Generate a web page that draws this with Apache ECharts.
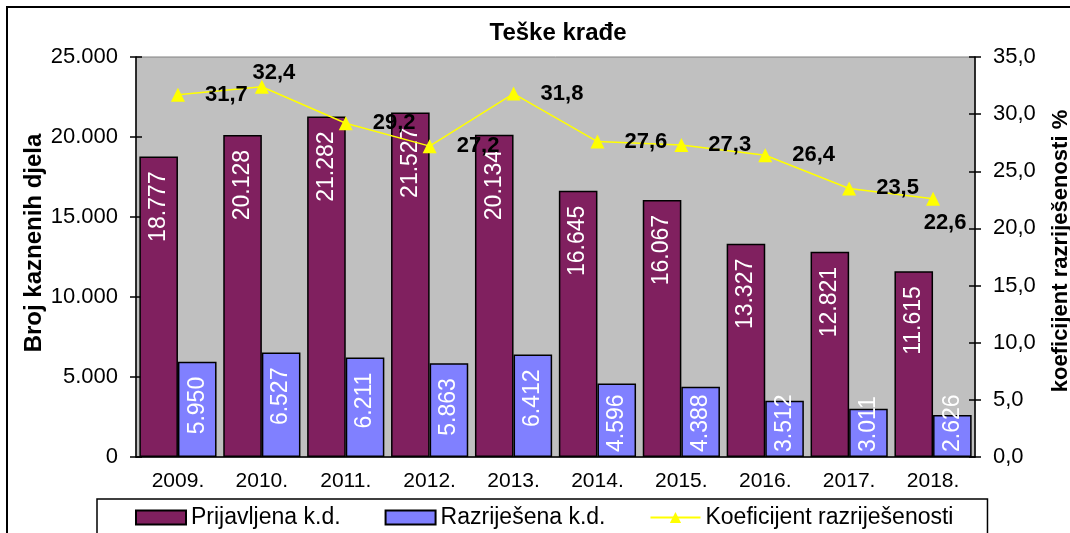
<!DOCTYPE html>
<html>
<head>
<meta charset="utf-8">
<script src="https://cdn.jsdelivr.net/npm/echarts@6/dist/echarts.min.js"></script>
<style>
    html, body { margin: 0; padding: 0; background: #fff; }
    #chart { width: 1070px; height: 533px; }
</style>
</head>
<body>
<div id="chart"></div>
<script>
// values
const years = ['2009.', '2010.', '2011.', '2012.', '2013.', '2014.', '2015.', '2016.', '2017.', '2018.'];
const reported = [18777, 20128, 21282, 21527, 20134, 16645, 16067, 13327, 12821, 11615];
const solved = [5950, 6527, 6211, 5863, 6412, 4596, 4388, 3512, 3011, 2626];
const coef = [31.7, 32.4, 29.2, 27.2, 31.8, 27.6, 27.3, 26.4, 23.5, 22.6];
const coefLabelPos = ['right', 'top', 'right', 'right', 'right', 'right', 'right', 'right', 'right', 'bottom'];

const FONT = '"Liberation Sans", Arial, sans-serif';
const PLOT_BOTTOM = 457;

function thousands(v) {
    return String(v).replace(/\B(?=(\d{3})+(?!\d))/g, '.');
}
function decimal(v) {
    return Number(v).toFixed(1).replace('.', ',');
}

// keep short-bar labels inside the plot, like Excel does
function barLabelLayout(p) {
    const r = p.labelRect;
    const over = r.y + r.height - (PLOT_BOTTOM - 5);
    if (over > 0) return { y: r.y - over };
    return {};
}

const barLabel = {
    show: true,
    position: 'insideTop',
    distance: 15,
    rotate: 90,
    align: 'right',
    verticalAlign: 'middle',
    color: '#fff',
    fontSize: 23,
    fontFamily: FONT,
    formatter: p => thousands(p.value)
};

const tickStyle = { color: '#000', width: 1.5 };

const myChart = echarts.init(document.getElementById('chart'));

const option = {
    animation: false,
    textStyle: { fontFamily: FONT },
    title: {
        text: 'Teške krađe',
        left: 553,
        top: 16,
        textAlign: 'center',
        textStyle: { fontSize: 24, fontWeight: 'bold', color: '#000', fontFamily: FONT }
    },
    graphic: [{
        type: 'rect',
        shape: { x: 7, y: 7, width: 1100, height: 600 },
        style: { fill: 'none', stroke: '#000', lineWidth: 2 },
        silent: true
    }],
    legend: {
        left: 97,
        top: 499,
        padding: [7, 34, 30, 38],
        itemGap: 44,
        itemWidth: 50,
        itemHeight: 14,
        borderColor: '#000',
        borderWidth: 1.5,
        backgroundColor: '#fff',
        textStyle: { fontSize: 23, color: '#000', fontFamily: FONT },
        data: [
            { name: 'Prijavljena k.d.', icon: 'rect' },
            { name: 'Razriješena k.d.', icon: 'rect' },
            { name: 'Koeficijent razriješenosti' }
        ]
    },
    grid: {
        left: 136,
        right: 95,
        top: 57,
        bottom: 76,
        outerBoundsMode: 'none',
        containLabel: false,
        show: true,
        backgroundColor: '#C0C0C0',
        borderColor: '#808080',
        borderWidth: 1
    },
    xAxis: {
        type: 'category',
        data: years,
        axisLine: { lineStyle: { color: '#000', width: 1.5 } },
        axisTick: { length: 7, lineStyle: tickStyle },
        axisLabel: { fontSize: 21, color: '#000', margin: 14, fontFamily: FONT }
    },
    yAxis: [
        {
            type: 'value',
            position: 'left',
            min: 0,
            max: 25000,
            interval: 5000,
            name: 'Broj kaznenih djela',
            nameLocation: 'middle',
            nameGap: 90,
            nameMoveOverlap: false,
            nameRotate: 90,
            nameTextStyle: { fontSize: 24, fontWeight: 'bold', color: '#000', fontFamily: FONT, padding: [0, 0, 0, 28] },
            axisLine: { show: true, lineStyle: { color: '#000', width: 1.5 } },
            axisTick: { show: true, length: 6, lineStyle: tickStyle },
            axisLabel: { fontSize: 22, color: '#000', margin: 18, formatter: thousands, fontFamily: FONT },
            splitLine: { show: false }
        },
        {
            type: 'value',
            position: 'right',
            min: 0,
            max: 35,
            interval: 5,
            name: 'koeficijent razriješenosti %',
            nameLocation: 'middle',
            nameGap: 75,
            nameMoveOverlap: false,
            nameRotate: 90,
            nameTextStyle: { fontSize: 22, fontWeight: 'bold', color: '#000', fontFamily: FONT, padding: [0, 0, 0, 12] },
            axisLine: { show: true, lineStyle: { color: '#000', width: 1.5 } },
            axisTick: { show: true, length: 6, lineStyle: tickStyle },
            axisLabel: { fontSize: 22, color: '#000', margin: 18, formatter: decimal, fontFamily: FONT },
            splitLine: { show: false }
        },
        // inside halves of the crossing ticks
        {
            type: 'value',
            position: 'left',
            min: 0,
            max: 25000,
            interval: 5000,
            axisLine: { show: false },
            axisTick: { show: true, inside: true, length: 6, lineStyle: tickStyle },
            axisLabel: { show: false },
            splitLine: { show: false }
        },
        {
            type: 'value',
            position: 'right',
            min: 0,
            max: 35,
            interval: 5,
            axisLine: { show: false },
            axisTick: { show: true, inside: true, length: 6, lineStyle: tickStyle },
            axisLabel: { show: false },
            splitLine: { show: false }
        }
    ],
    series: [
        {
            name: 'Prijavljena k.d.',
            type: 'bar',
            data: reported,
            barGap: '0%',
            barCategoryGap: '8%',
            itemStyle: { color: '#80205F', borderColor: '#000', borderWidth: 1.5 },
            label: barLabel,
            labelLayout: barLabelLayout
        },
        {
            name: 'Razriješena k.d.',
            type: 'bar',
            data: solved,
            itemStyle: { color: '#8080FF', borderColor: '#000', borderWidth: 1.5 },
            label: barLabel,
            labelLayout: barLabelLayout
        },
        {
            name: 'Koeficijent razriješenosti',
            type: 'line',
            yAxisIndex: 1,
            data: coef.map((v, i) => ({
                value: v,
                label: coefLabelPos[i] === 'right'
                    ? { position: 'right' }
                    : {
                        position: coefLabelPos[i],
                        distance: coefLabelPos[i] === 'top' ? -4 : 6,
                        offset: [12, 0]
                    }
            })),
            symbol: 'triangle',
            symbolSize: 14,
            lineStyle: { color: '#FFFF00', width: 1.5 },
            itemStyle: { color: '#FFFF00' },
            label: {
                show: true,
                distance: 20,
                fontSize: 22,
                fontWeight: 'bold',
                color: '#000',
                fontFamily: FONT,
                formatter: p => decimal(p.value)
            },
            z: 5
        }
    ]
};

myChart.setOption(option);
</script>
</body>
</html>
